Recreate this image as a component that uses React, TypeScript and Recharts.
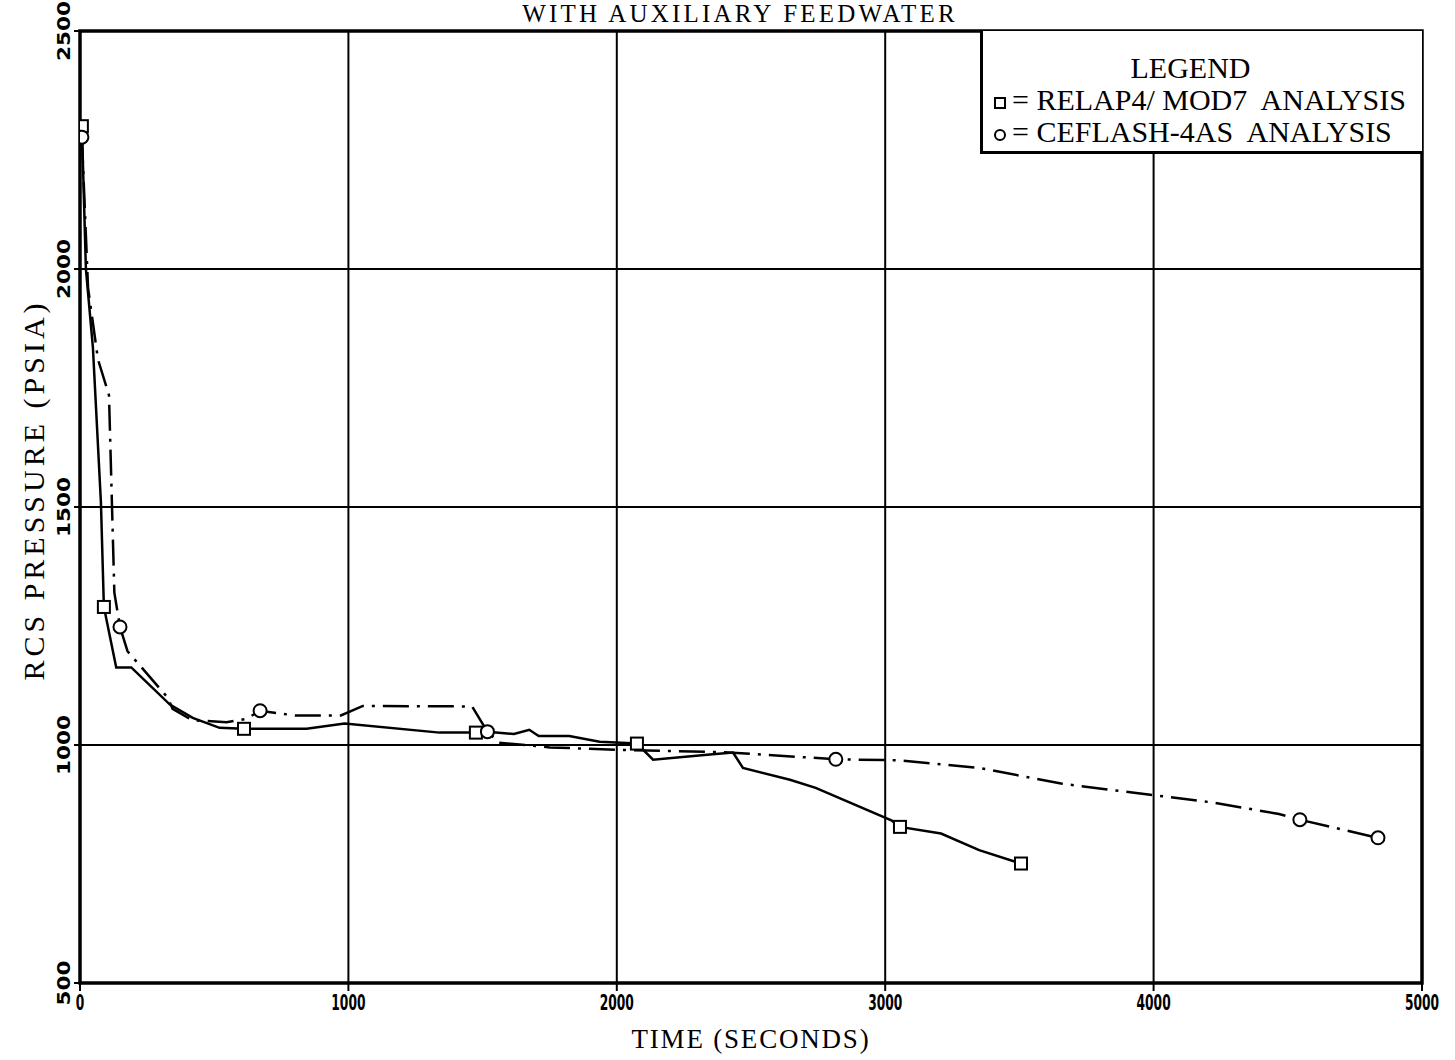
import React from "react";
import {
  ComposedChart,
  Line,
  Scatter,
  XAxis,
  YAxis,
  CartesianGrid,
  ReferenceArea,
  Legend,
  Label,
} from "recharts";

// RELAP4/MOD7 analysis (solid line)
const relapTime = [7, 22, 48, 78, 89, 135, 191, 335, 420, 520, 611, 844, 986, 1340, 1475, 1518, 1617, 1674, 1709, 1823, 1936, 2075, 2135, 2347, 2433, 2470, 2645, 2741, 3025, 3055, 3208, 3350, 3506];
const relapPressure = [2300, 2000, 1836, 1509, 1290, 1163, 1163, 1085, 1057, 1036, 1034, 1034, 1045, 1026, 1026, 1028, 1023, 1032, 1019, 1019, 1007, 1003, 969, 980, 984, 952, 927, 910, 841, 828, 814, 779, 751];
const relapMarkTime = [7, 89, 611, 1475, 2075, 3055, 3506];
const relapMarkPressure = [2300, 1290, 1034, 1026, 1003, 828, 751];

// CEFLASH-4AS analysis (dash-dot line)
const ceflashTime = [7, 30, 67, 108, 128, 149, 177, 326, 345, 418, 546, 620, 671, 801, 972, 1054, 1461, 1518, 1560, 1750, 2000, 2400, 2816, 3046, 3350, 3655, 3980, 4223, 4467, 4545, 4836];
const ceflashPressure = [2277, 1960, 1810, 1735, 1320, 1248, 1197, 1100, 1076, 1052, 1048, 1055, 1072, 1062, 1062, 1082, 1081, 1028, 1005, 995, 990, 985, 970, 968, 952, 919, 896, 879, 855, 843, 805];
const ceflashMarkTime = [7, 149, 671, 1518, 2816, 4545, 4836];
const ceflashMarkPressure = [2277, 1248, 1072, 1028, 970, 843, 805];

const xTicks = [0, 1000, 2000, 3000, 4000, 5000];
const yTicks = [500, 1000, 1500, 2000, 2500];

const zip = (t: number[], p: number[]) => t.map((time, i) => ({ time, pressure: p[i] }));

const relapData = zip(relapTime, relapPressure);
const relapMarks = zip(relapMarkTime, relapMarkPressure);
const ceflashData = zip(ceflashTime, ceflashPressure);
const ceflashMarks = zip(ceflashMarkTime, ceflashMarkPressure);

const SERIF = "'Liberation Serif', 'DejaVu Serif', serif";
const NARROW = "'DejaVu Sans Condensed', 'Liberation Sans Narrow', sans-serif";

const SquareMark = (props: any) => {
  const { cx, cy } = props;
  return <rect x={cx - 6} y={cy - 6} width={12} height={12} fill="#fff" stroke="#000" strokeWidth={2} />;
};

const CircleMark = (props: any) => {
  const { cx, cy } = props;
  return <circle cx={cx} cy={cy} r={6.5} fill="#fff" stroke="#000" strokeWidth={2} />;
};

const XTick = (props: any) => {
  const { x, y, payload } = props;
  return (
    <text
      x={0}
      y={0}
      transform={`translate(${x} ${y + 17}) scale(0.62 1)`}
      textAnchor="middle"
      fontSize={22}
      fontWeight="bold"
      fontFamily={NARROW}
      style={{ fill: "#000" }}
    >
      {payload.value}
    </text>
  );
};

const YTick = (props: any) => {
  const { x, y, payload } = props;
  return (
    <text
      x={0}
      y={0}
      transform={`translate(${x} ${y}) rotate(-90) scale(1 0.72)`}
      textAnchor="middle"
      fontSize={24}
      fontWeight="bold"
      fontFamily={NARROW}
      style={{ fill: "#000" }}
    >
      {payload.value}
    </text>
  );
};

const YLabel = () => {
  const cy = 490;
  return (
    <text
      x={44}
      y={cy}
      transform={`rotate(-90 44 ${cy})`}
      textAnchor="middle"
      fontSize={30}
      letterSpacing={4}
      fontFamily={SERIF}
      style={{ fill: "#000" }}
    >
      RCS PRESSURE (PSIA)
    </text>
  );
};

const LegendBox = () => (
  <div
    style={{
      boxSizing: "border-box",
      width: 442,
      height: 123,
      borderLeft: "3px solid #000",
      borderBottom: "3px solid #000",
      fontFamily: SERIF,
      fontSize: 30,
      color: "#000",
      lineHeight: "32px",
      paddingTop: 21,
      paddingLeft: 10,
      background: "#fff",
    }}
  >
    <div style={{ textAlign: "center", paddingRight: 34 }}>LEGEND</div>
    <div style={{ whiteSpace: "nowrap" }}>
      <svg width={14} height={14} style={{ marginRight: 5 }}>
        <rect x={2} y={2} width={10} height={10} fill="none" stroke="#000" strokeWidth={2} />
      </svg>
      = RELAP4/ MOD7&nbsp; ANALYSIS
    </div>
    <div style={{ whiteSpace: "nowrap" }}>
      <svg width={14} height={14} style={{ marginRight: 5 }}>
        <circle cx={7} cy={7} r={5} fill="none" stroke="#000" strokeWidth={2} />
      </svg>
      = CEFLASH-4AS&nbsp; ANALYSIS
    </div>
  </div>
);

export default function App() {
  return (
    <div style={{ position: "absolute", left: 0, top: 0, width: 1455, height: 1060, background: "#fff" }}>
      <div
        style={{
          position: "absolute",
          left: 0,
          width: 1480,
          top: 0,
          textAlign: "center",
          fontFamily: SERIF,
          fontSize: 25,
          letterSpacing: 3.2,
          lineHeight: "27px",
          zIndex: 2,
        }}
      >
        WITH AUXILIARY FEEDWATER
      </div>
      <ComposedChart width={1455} height={1060} margin={{ top: 31, right: 33, bottom: 0, left: 0 }}>
        <CartesianGrid stroke="#000" strokeWidth={2} horizontalValues={yTicks} verticalValues={xTicks} />
        <XAxis
          type="number"
          dataKey="time"
          domain={[0, 5000]}
          ticks={xTicks}
          height={77}
          allowDataOverflow
          tickSize={8}
          tickMargin={2}
          axisLine={false}
          tickLine={{ stroke: "#000", strokeWidth: 2 }}
          tick={<XTick />}
        >
          <Label
            value="TIME (SECONDS)"
            position="insideBottom"
            offset={12}
            fontSize={27}
            letterSpacing={1.8}
            fontFamily={SERIF}
            fill="#000"
          />
        </XAxis>
        <YAxis
          type="number"
          dataKey="pressure"
          domain={[500, 2500]}
          ticks={yTicks}
          width={80}
          allowDataOverflow
          tickSize={6}
          tickMargin={4}
          axisLine={false}
          tickLine={{ stroke: "#000", strokeWidth: 2 }}
          tick={<YTick />}
        >
          <Label content={<YLabel />} />
        </YAxis>
        <ReferenceArea x1={0} x2={5000} y1={500} y2={2500} fill="none" stroke="#000" strokeWidth={3.5} />
        <Line
          data={relapData}
          dataKey="pressure"
          type="linear"
          stroke="#000"
          strokeWidth={2.5}
          dot={false}
          isAnimationActive={false}
        />
        <Line
          data={ceflashData}
          dataKey="pressure"
          type="linear"
          stroke="#000"
          strokeWidth={2.5}
          strokeDasharray="26 8 3 8"
          dot={false}
          isAnimationActive={false}
        />
        <Scatter data={relapMarks} dataKey="pressure" shape={<SquareMark />} isAnimationActive={false} />
        <Scatter data={ceflashMarks} dataKey="pressure" shape={<CircleMark />} isAnimationActive={false} />
        <Legend
          layout="horizontal"
          verticalAlign="middle"
          align="center"
          content={<LegendBox />}
          wrapperStyle={{ position: "absolute", left: 980, top: 31, width: 442, height: 123 }}
        />
      </ComposedChart>
    </div>
  );
}
